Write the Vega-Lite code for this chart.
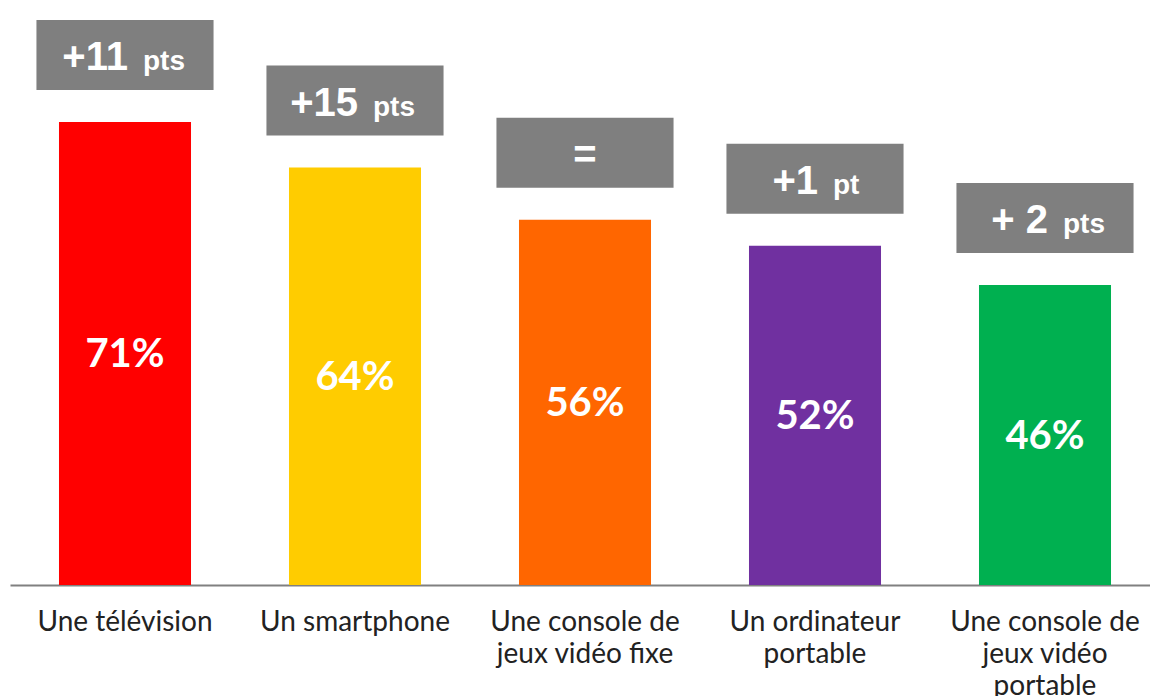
{
  "$schema": "https://vega.github.io/schema/vega-lite/v6.json",
  "width": 1150,
  "height": 585,
  "autosize": {"type": "none"},
  "padding": {"left": 0, "right": 0, "top": 0, "bottom": 111},
  "background": "white",
  "config": {"view": {"stroke": null}},
  "data": {
    "values": [
      {"device": "Une télévision", "value": 71, "gain": "+11", "unit": "pts"},
      {"device": "Un smartphone", "value": 64, "gain": "+15", "unit": "pts"},
      {"device": "Une console de\njeux vidéo fixe", "value": 56, "gain": "=", "unit": ""},
      {"device": "Un ordinateur\nportable", "value": 52, "gain": "+1", "unit": "pt"},
      {"device": "Une console de\njeux vidéo\nportable", "value": 46, "gain": "+ 2", "unit": "pts"}
    ]
  },
  "resolve": {"scale": {"y": "independent"}},
  "layer": [
    {
      "mark": {"type": "bar", "width": {"band": 0.574}},
      "encoding": {
        "x": {
          "field": "device", "type": "nominal", "sort": null,
          "scale": {"range": [10, 1160], "paddingInner": 0, "paddingOuter": 0},
          "axis": {
            "title": null, "ticks": false, "tickSize": 0, "labelAngle": 0,
            "domainColor": "#808080", "domainWidth": 2,
            "labelFont": "Lato", "labelFontSize": 28, "labelColor": "#222222",
            "labelLineHeight": 32, "labelPadding": 23, "labelLimit": 0,
            "labelExpr": "split(datum.label, '\\n')"
          }
        },
        "y": {"field": "value", "type": "quantitative", "scale": {"domain": [0, 89.7]}, "axis": null},
        "color": {
          "field": "device", "type": "nominal", "sort": null, "legend": null,
          "scale": {
            "domain": ["Une télévision", "Un smartphone", "Une console de\njeux vidéo fixe", "Un ordinateur\nportable", "Une console de\njeux vidéo\nportable"],
            "range": ["#FF0000", "#FFCC00", "#FF6600", "#7030A0", "#00B050"]
          }
        }
      }
    },
    {
      "mark": {"type": "bar", "width": {"band": 0.77}, "color": "#7F7F7F", "yOffset": -32, "y2Offset": -102},
      "encoding": {
        "x": {"field": "device", "type": "nominal", "sort": null},
        "y": {"field": "value", "type": "quantitative", "scale": {"domain": [0, 89.7]}, "axis": null},
        "y2": {"field": "value"}
      }
    },
    {
      "transform": [{"filter": "datum.unit != ''"}],
      "mark": {"type": "text", "font": "Liberation Sans", "fontWeight": "bold", "fontSize": 40, "color": "white", "align": "right", "baseline": "alphabetic", "dx": 3, "dy": -52},
      "encoding": {
        "x": {"field": "device", "type": "nominal", "sort": null},
        "y": {"field": "value", "type": "quantitative", "scale": {"domain": [0, 89.7]}, "axis": null},
        "text": {"field": "gain"}
      }
    },
    {
      "transform": [{"filter": "datum.unit == ''"}],
      "mark": {"type": "text", "font": "Liberation Sans", "fontWeight": "bold", "fontSize": 40, "color": "white", "align": "center", "baseline": "alphabetic", "dy": -52},
      "encoding": {
        "x": {"field": "device", "type": "nominal", "sort": null},
        "y": {"field": "value", "type": "quantitative", "scale": {"domain": [0, 89.7]}, "axis": null},
        "text": {"field": "gain"}
      }
    },
    {
      "transform": [{"filter": "datum.unit != ''"}],
      "mark": {"type": "text", "font": "Liberation Sans", "fontWeight": "bold", "fontSize": 28, "color": "white", "align": "left", "baseline": "alphabetic", "dx": 18, "dy": -52},
      "encoding": {
        "x": {"field": "device", "type": "nominal", "sort": null},
        "y": {"field": "value", "type": "quantitative", "scale": {"domain": [0, 89.7]}, "axis": null},
        "text": {"field": "unit"}
      }
    },
    {
      "mark": {"type": "text", "font": "Lato", "fontWeight": "bold", "fontSize": 40, "color": "white", "align": "center", "baseline": "middle", "dy": 2, "text": {"expr": "datum.value + '%'"}},
      "encoding": {
        "x": {"field": "device", "type": "nominal", "sort": null},
        "y": {"field": "value", "type": "quantitative", "scale": {"domain": [0, 179.4]}, "axis": null}
      }
    }
  ]
}
